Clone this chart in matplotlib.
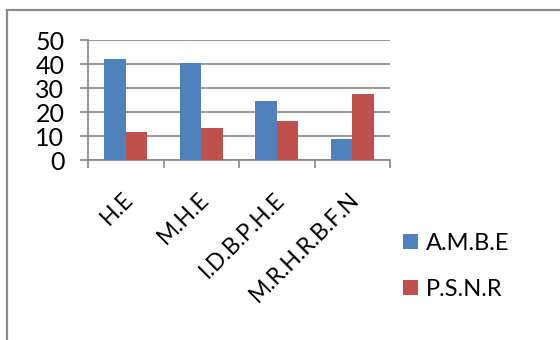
import matplotlib
matplotlib.use("Agg")
import matplotlib.pyplot as plt
from matplotlib.lines import Line2D
from matplotlib.patches import Patch
from matplotlib import transforms
import numpy as np

categories = ["H.E", "M.H.E", "I.D.B.P.H.E", "M.R.H.R.B.F.N"]
ambe = [41.9, 40.5, 24.6, 8.9]
psnr = [11.8, 13.2, 16.4, 27.6]
series_names = ["A.M.B.E", "P.S.N.R"]
yticks = [0, 10, 20, 30, 40, 50]

BLUE = "#4F81BD"
RED = "#C0504D"
GRID = "#868686"

plt.rcParams["font.family"] = ["Lato", "DejaVu Sans"]

W, H, DPI = 560, 340, 100
fig = plt.figure(figsize=(W / DPI, H / DPI), dpi=DPI)

# plot area in pixel terms
left, right, top, bottom = 88, 390, 40, 160
ax = fig.add_axes([left / W, 1 - bottom / H, (right - left) / W, (bottom - top) / H])

x = np.arange(len(categories)) + 0.5
bw = 0.285
ax.bar(x - bw / 2, ambe, width=bw, color=BLUE, zorder=3)
ax.bar(x + bw / 2, psnr, width=bw, color=RED, zorder=3)

ax.set_xlim(0, len(categories))
ax.set_ylim(0, 50)
ax.set_yticks(yticks)
ax.set_yticklabels([str(v) for v in yticks], fontsize=18)
ax.yaxis.grid(True, color=GRID, linewidth=1.2, zorder=0)
ax.set_axisbelow(True)

ax.set_xticks(np.arange(len(categories) + 1))
ax.set_xticklabels([])
ax.tick_params(axis="x", length=6, width=1.2, color=GRID, direction="out")
ax.tick_params(axis="y", length=6, width=1.2, color=GRID, direction="out", pad=11)

for s in ["top", "right"]:
    ax.spines[s].set_visible(False)
for s in ["left", "bottom"]:
    ax.spines[s].set_color(GRID)
    ax.spines[s].set_linewidth(1.2)

# rotated category labels, right end anchored below each category
trans = ax.get_xaxis_transform() + transforms.ScaledTranslation(4 / DPI, -36 / DPI, fig.dpi_scale_trans)
for xi, lab in zip(x, categories):
    ax.text(xi, 0, lab, rotation=45, rotation_mode="anchor", ha="right", va="center",
            fontsize=16.5, transform=trans)

handles = [Patch(facecolor=BLUE, edgecolor="none"), Patch(facecolor=RED, edgecolor="none")]
fig.legend(handles, series_names, loc="center left", bbox_to_anchor=(403 / W, 1 - 266.5 / H),
           frameon=False, fontsize=17, borderpad=0, borderaxespad=0,
           handlelength=0.62, handleheight=0.62, handletextpad=0.35, labelspacing=1.05)

# outer chart frame (open at right and bottom)
fx, fy = 7 / W, 1 - 10 / H
fig.add_artist(Line2D([fx, fx], [0, fy], transform=fig.transFigure, color="#8C8C8C", linewidth=1.6))
fig.add_artist(Line2D([fx, 1], [fy, fy], transform=fig.transFigure, color="#8C8C8C", linewidth=1.6))

fig.savefig("out.png", dpi=DPI)
